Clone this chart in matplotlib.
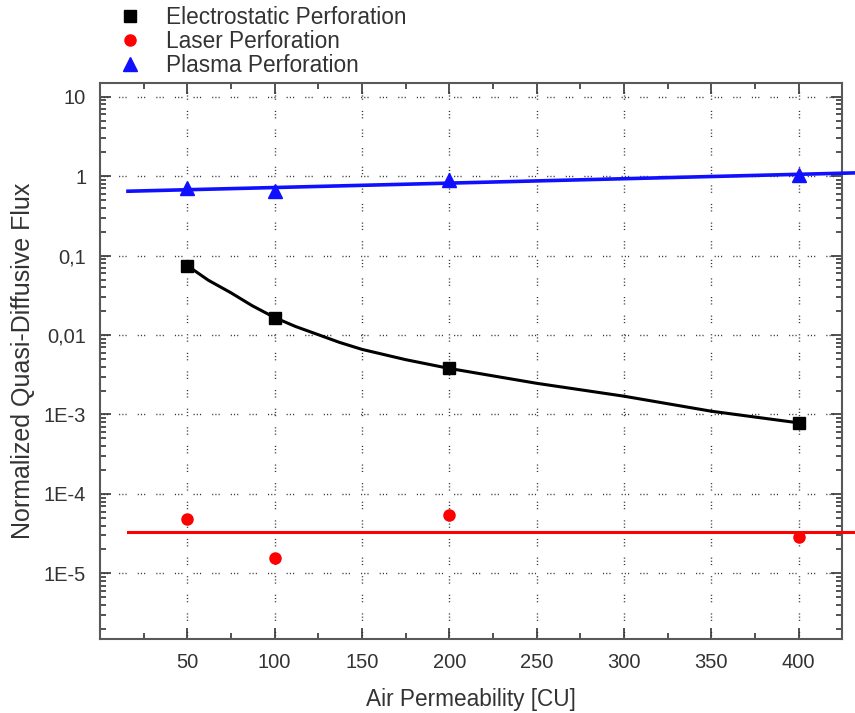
import matplotlib.pyplot as plt
from matplotlib.ticker import FixedLocator, LogLocator, MultipleLocator, NullFormatter

plt.rcParams['font.family'] = ['Liberation Sans', 'DejaVu Sans']

# measured points
perm = [50, 100, 200, 400]
electrostatic = [0.0747, 0.0166, 0.0038, 0.000785]
laser = [4.83e-5, 1.55e-5, 5.47e-5, 2.86e-5]
plasma = [0.705, 0.65, 0.90, 1.04]

# fit curves
fit_perm_e = [50, 62, 75, 87, 100, 112, 125, 137, 150, 175, 200, 250, 300, 350, 400]
fit_e = [0.0747, 0.049, 0.034, 0.0235, 0.0166, 0.0128, 0.0101, 0.0081, 0.0066, 0.0049, 0.0038,
         0.00247, 0.0017, 0.0011, 0.000785]
fit_perm_p = [16, 433]
fit_p = [0.646, 1.10]
fit_perm_l = [16, 433]
fit_l = [3.33e-5, 3.33e-5]

ytick_vals = [1e-5, 1e-4, 1e-3, 1e-2, 1e-1, 1, 10]
ytick_labels = ['1E-5', '1E-4', '1E-3', '0,01', '0,1', '1', '10']

fig = plt.figure(figsize=(8.55, 7.13), dpi=100)
ax = fig.add_axes([0.117, 0.104, 0.868, 0.780])

ax.set_yscale('log')
ax.set_xlim(0, 425)
ax.set_ylim(1.5e-6, 15)

# grid - sparse dotted look
grid_style = dict(color='0.2', lw=1.0, linestyle=(0, (0.8, 1.5, 0.8, 1.5, 0.8, 8)))
ax.grid(True, which='major', axis='both', **grid_style)
ax.set_axisbelow(True)

# fit lines
ax.plot(fit_perm_e, fit_e, color='black', lw=2.2, zorder=3)
ax.plot(fit_perm_p, fit_p, color='#1010ff', lw=2.6, zorder=3, clip_on=False)
ax.plot(fit_perm_l, fit_l, color='#ff0000', lw=2.2, zorder=3, clip_on=False)

# data points
ax.plot(perm, electrostatic, 's', color='black', ms=9, zorder=4, label='Electrostatic Perforation')
ax.plot(perm, laser, 'o', color='#ff0000', ms=8, zorder=4, label='Laser Perforation')
ax.plot(perm, plasma, '^', color='#1010ff', ms=10, zorder=4, label='Plasma Perforation')

ax.set_xticks([50, 100, 150, 200, 250, 300, 350, 400])
ax.xaxis.set_minor_locator(MultipleLocator(25))
ax.yaxis.set_major_locator(FixedLocator(ytick_vals))
ax.set_yticklabels(ytick_labels)
ax.yaxis.set_minor_locator(LogLocator(base=10, subs=range(2, 10), numticks=20))
ax.yaxis.set_minor_formatter(NullFormatter())

ax.tick_params(which='both', direction='in', top=True, right=True, labelsize=14.5,
               labelcolor='#333333', color='0.2', width=1.2)
ax.tick_params(which='major', length=8, pad=10)
ax.tick_params(which='minor', length=4)

for sp in ax.spines.values():
    sp.set_color('0.35')
    sp.set_linewidth(1.5)

ax.set_xlabel('Air Permeability [CU]', fontsize=16.3, color='#333333', labelpad=12)
ax.set_ylabel('Normalized Quasi-Diffusive Flux', fontsize=18, color='#333333', labelpad=6)

fig.legend(loc='upper left', bbox_to_anchor=(0.125, 1.008), frameon=False, fontsize=16.3,
           handletextpad=1.1, labelspacing=0.05, borderaxespad=0.1, handlelength=1.0,
           labelcolor='#333333')

fig.savefig('out.png', dpi=100)
